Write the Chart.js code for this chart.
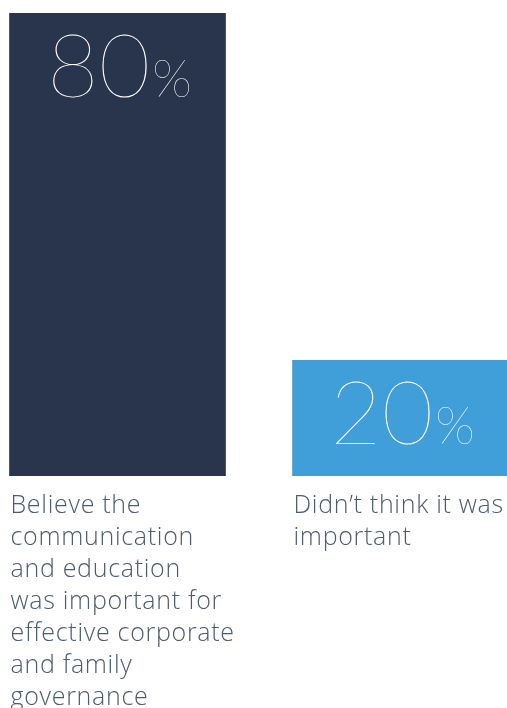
<!DOCTYPE html>
<html>
<head>
<meta charset="utf-8">
<script src="https://cdn.jsdelivr.net/npm/chart.js@4.4.1/dist/chart.umd.min.js"></script>
<style>
  html, body { margin: 0; padding: 0; background: #ffffff; }
  #frame { position: relative; width: 507px; height: 708px; overflow: hidden; }
  #chart { position: absolute; left: -24px; top: 0; }
</style>
</head>
<body>
<div id="frame"><canvas id="chart" width="566" height="708"></canvas></div>
<script>
// Share of respondents for each answer
const categories = [
  'Believe the communication and education was important for effective corporate and family governance',
  'Didn\u2019t think it was important'
];
const shares = [80, 20];
const barColors = ['#29354d', '#409fd8'];

// Caption lines under each bar (kept as drawn line breaks)
const captionLines = [
  ['Believe the', 'communication', 'and education', 'was important for', 'effective corporate', 'and family', 'governance'],
  ['Didn\u2019t think it was', 'important']
];

const valueFont = 'Lato, "Open Sans", sans-serif';
const captionFont = '"Open Sans", Lato, sans-serif';

// Draws the big "NN%" inside each bar and the caption under it
const barText = {
  id: 'barText',
  afterDatasetsDraw(chart) {
    const ctx = chart.ctx;
    const meta = chart.getDatasetMeta(0);
    meta.data.forEach((bar, i) => {
      const num = String(shares[i]);
      ctx.save();
      ctx.fillStyle = '#ffffff';
      ctx.textBaseline = 'alphabetic';
      ctx.textAlign = 'left';
      const bigFont = '100 89px ' + valueFont;
      const smallFont = '100 52px ' + valueFont;
      ctx.font = bigFont;
      const wNum = ctx.measureText(num).width;
      ctx.font = smallFont;
      const wPct = ctx.measureText('%').width;
      const gap = 2;
      const startX = bar.x + 2 - (wNum + gap + wPct) / 2;
      const baseY = bar.y + 84;
      ctx.font = bigFont;
      ctx.fillText(num, startX, baseY);
      ctx.font = smallFont;
      ctx.fillText('%', startX + wNum + gap, baseY);

      // caption
      ctx.fillStyle = '#4f5b70';
      ctx.font = '300 25px ' + captionFont;
      ctx.letterSpacing = '0.7px';
      const left = bar.x - bar.width / 2 + 1;
      captionLines[i].forEach((line, k) => {
        ctx.fillText(line, left, bar.base + 37 + k * 32);
      });
      ctx.restore();
    });
  }
};

new Chart(document.getElementById('chart'), {
  type: 'bar',
  data: {
    labels: categories,
    datasets: [{
      data: shares,
      backgroundColor: barColors,
      borderWidth: 0,
      barThickness: 216
    }]
  },
  options: {
    responsive: false,
    animation: false,
    devicePixelRatio: 1,
    layout: { padding: { top: 13, bottom: 232, left: 0, right: 0 } },
    plugins: { legend: { display: false }, tooltip: { enabled: false } },
    scales: {
      x: { display: false, offset: true },
      y: { display: false, min: 0, max: 80 }
    }
  },
  plugins: [barText]
});
</script>
</body>
</html>
